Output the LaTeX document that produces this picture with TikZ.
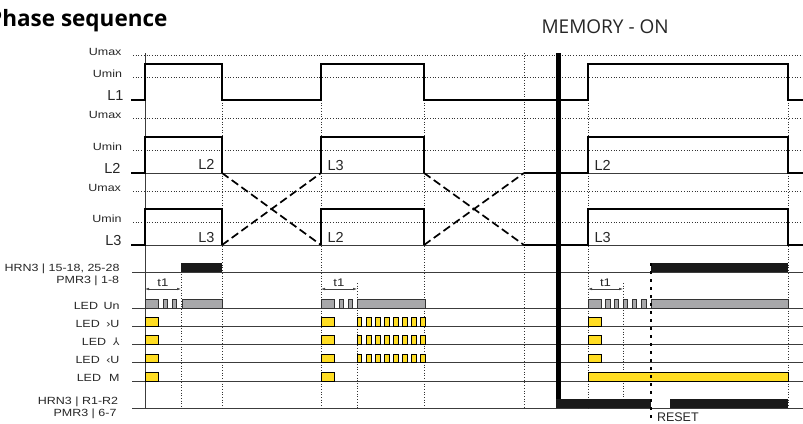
\documentclass[tikz,border=0pt]{standalone}
\usepackage{fontspec}
\setmainfont{Liberation Sans}
\newfontfamily\lblfont[FakeStretch=1.2]{Liberation Sans}
\newfontfamily\headfont{Open Sans}
\newfontfamily\symfont{DejaVu Sans}
\usepackage{tikz}
\usetikzlibrary{arrows.meta, calc, positioning}
\usepackage{xcolor}
\definecolor{ledyellow}{RGB}{255,221,35}
\definecolor{ledgray}{RGB}{168,168,170}
\definecolor{linegray}{RGB}{60,60,60}

\tikzset{
    wave/.style={line width=1.6pt, line join=miter},
    baseln/.style={linegray, line width=0.8pt},
    level/.style={black!80, line width=0.7pt, dash pattern=on 0.8pt off 1.9pt},
    guide/.style={black!80, line width=0.7pt, dash pattern=on 0.8pt off 1.9pt},
    swap/.style={line width=1.7pt, dash pattern=on 8pt off 4pt},
    ledun/.style={draw=black!80, fill=ledgray, line width=0.6pt},
    ledyel/.style={draw=black, fill=ledyellow, line width=0.6pt},
    relay/.style={fill=black!90},
    lbl/.style={anchor=base east, black!85, font=\lblfont\fontsize{10.4}{12}\selectfont},
    phase/.style={black!85, font=\fontsize{14.5}{16}\selectfont},
}

\begin{document}
\begin{tikzpicture}[x=1pt, y=-1pt]
    \useasboundingbox (0,0) rectangle (803,423);

    % Titel
    \node[anchor=base east, font=\headfont\bfseries\fontsize{22.5}{26}\selectfont] (title) at (171,27) {Phase sequence};
    \node[anchor=base west, black!85, font=\headfont\fontsize{19}{23}\selectfont] (memory) at (538,33) {MEMORY - ON};

    % Pegel Umax / Umin
    \foreach \y in {55,77,118,150,191,222}
        \draw[level] (133,\y) -- (803,\y);

    % Grundlinien
    \foreach \y in {173,245,272,308,326,344.3,362.7,381,408}
        \draw[baseln] (132,\y) -- (803,\y);
    \draw[baseln] (145,53) -- (145,408);

    % Zeitmarken
    \foreach \x/\ya in {222/100, 321/100, 424/100, 524/53, 588/100, 788/100, 181/263, 357/283, 623/283}
        \draw[guide] (\x,\ya) -- (\x,408);

    % L1
    \draw[wave] (131,100) -- (145,100) -- (145,64) -- (222,64) -- (222,100) -- (321,100) -- (321,64)
        -- (424,64) -- (424,100) -- (588,100) -- (588,64) -- (788,64) -- (788,100) -- (803,100);

    % L2 / L3
    \draw[wave] (131,173) -- (145,173) -- (145,137) -- (222,137) -- (222,173);
    \draw[wave] (321,173) -- (321,137) -- (424,137) -- (424,173);
    \draw[wave] (524,173) -- (588,173) -- (588,137) -- (788,137) -- (788,173) -- (803,173);
    \draw[wave] (131,245) -- (145,245) -- (145,209) -- (222,209) -- (222,245);
    \draw[wave] (321,245) -- (321,209) -- (424,209) -- (424,245);
    \draw[wave] (524,245) -- (588,245) -- (588,209) -- (788,209) -- (788,245) -- (803,245);

    % Phasentausch
    \draw[swap] (222,173) -- (321,245);
    \draw[swap] (222,245) -- (321,173);
    \draw[swap] (424,173) -- (524,245);
    \draw[swap] (424,245) -- (524,173);

    % Beschriftung links
    \node[lbl] (umax1) at (125,55) {Umax};
    \node[lbl] (umin1) at (125.5,77) {Umin};
    \node[phase, anchor=base east] (nl1) at (127,100) {L1};
    \node[lbl] (umax2) at (125,118) {Umax};
    \node[lbl] (umin2) at (125.5,150) {Umin};
    \node[phase, anchor=base east] (nl2) at (124,173) {L2};
    \node[lbl] (umax3) at (124.5,191) {Umax};
    \node[lbl] (umin3) at (125,222) {Umin};
    \node[phase, anchor=base east] (nl3) at (125,245) {L3};

    % Beschriftung in den Impulsen
    \node[phase, anchor=base east] (pa2) at (218,169.5) {L2};
    \node[phase, anchor=base east] (pa3) at (218,242.5) {L3};
    \node[phase, anchor=base west] (pb3) at (324,170) {L3};
    \node[phase, anchor=base west] (pb2) at (324,242.5) {L2};
    \node[phase, anchor=base west] (pc2) at (591,170) {L2};
    \node[phase, anchor=base west] (pc3) at (591,242.5) {L3};

    % Ausgaenge und LEDs
    \node[lbl] (hrna) at (123,271) {HRN3 | 15-18, 25-28};
    \node[lbl] (pmra) at (122.7,283.5) {PMR3 | 1-8};
    \node[lbl] (ledun) at (123,309) {LED\hspace{2pt} Un};
    \node[lbl] (ledhi) at (123,327) {LED\hspace{3pt} ›U};
    \node[lbl] (ledsym) at (123,345) {LED\hspace{7pt}{\symfont ⅄}};
    \node[lbl] (ledlo) at (123,363) {LED\hspace{3pt} ‹U};
    \node[lbl] (ledm) at (123,381.5) {LED\hspace{8pt}M};
    \node[lbl] (hrnb) at (121.7,404) {HRN3 | R1-R2};
    \node[lbl] (pmrb) at (120,416.5) {PMR3 | 6-7};

    % Relais oben
    \fill[relay] (181,263) rectangle (222,272);
    \fill[relay] (651,263) rectangle (788,272);

    % t1
    \foreach \a/\b/\n in {145/181/1, 321/357/2, 588/623/3} {
        \coordinate (tl\n) at (\a,289);
        \coordinate (tr\n) at (\b,289);
        \draw[{Latex[length=4pt,width=2.5pt]}-{Latex[length=4pt,width=2.5pt]}, line width=0.5pt, black!75] (tl\n) -- (tr\n)
            node[midway, above=-1pt, black!85, font=\lblfont\fontsize{11}{12}\selectfont] (tt\n) {t1};
    }

    % LED Un
    \foreach \a/\b in {145/158, 163/167, 172/176, 182/222, 321/334, 339/343, 348/352, 357/425,
                       588/601, 605.5/610, 614/618.5, 623/627.5, 632/636.5, 641.5/646, 651/788}
        \draw[ledun] (\a,299) rectangle (\b,308);

    % LED >U, Stern, <U
    \foreach \y in {326,344.3,362.7} {
        \draw[ledyel] (145,\y-8.7) rectangle (158,\y);
        \draw[ledyel] (321,\y-8.7) rectangle (334,\y);
        \draw[ledyel] (588,\y-8.7) rectangle (601,\y);
        \foreach \k in {0,...,7}
            \draw[ledyel] (357+9.1*\k,\y-8.7) rectangle (361.7+9.1*\k,\y);
    }

    % LED M
    \draw[ledyel] (145,372.3) rectangle (158,381);
    \draw[ledyel] (321,372.3) rectangle (334,381);
    \draw[ledyel] (588,372.3) rectangle (788,381);

    % Speicher
    \draw[line width=4.2pt] (558.5,53) -- (558.5,408);
    \fill[relay] (556.4,399) rectangle (651,408);
    \fill[relay] (670,399) rectangle (788,408);

    % Reset
    \coordinate (rtop) at (651,263);
    \coordinate (rbot) at (651,421);
    \draw[line width=1.6pt, dash pattern=on 3pt off 5pt] (rtop) -- (rbot);
    \node[anchor=base west, black!85, font=\fontsize{12.5}{14}\selectfont] (reset) at (653.5,421) {RESET};
\end{tikzpicture}
\end{document}
